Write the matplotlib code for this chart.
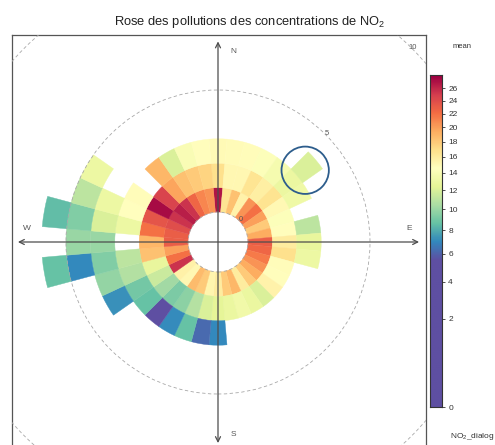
import numpy as np
import matplotlib
matplotlib.use("Agg")
import matplotlib.pyplot as plt
from matplotlib.patches import Wedge, Circle
from matplotlib.collections import PatchCollection
from matplotlib.colors import FuncNorm

plt.rcParams['font.family'] = ['Liberation Sans', 'DejaVu Sans']
plt.rcParams['mathtext.default'] = 'regular'

# ---------------- data ----------------
directions = list(range(0, 360, 10))          # wind direction bins (deg)
nan = np.nan
# mean NO2 per wind-speed ring (ring k = speeds k-1..k), one value per direction
ring1 = [27, 16.5, 18.5, 15.5, 20.5, 22, 20, 18, 19.5, 23, 22.5, 21.5,
         20.5, 19.5, 18, 16, 19, 18, 16, 15.3, 18, 18.8, 15.2, 15.6,
         25.5, 22, 20, 23, 23, 24, 25.5, 26.5, 25.5, 22.5, 21, 20.5]
ring2 = [16.8, 15.2, 15.2, 16.5, 15.8, 16.6, 15.1, 14.3, 14.7, 16, 16.8, 14.8,
         14.7, 15.5, 12, 12.8, 13.3, 12.8, 12.4, 12, 10.8, 9.6, 9.2, 10.2,
         11.5, 12.7, 18.5, 19, 22, 23.5, 27.5, 24.5, 19.8, 18.5, 18, 17.5]
ring3 = [15, 14.9, 14.8, 14.3, 13.7, 12.9, 13.2, nan, 11, 12.7, 13, nan,
         nan, nan, nan, nan, nan, nan, 7, 6.2, 8.6, 7.1, 5.5, 8.6,
         9, 10.7, 11, nan, 13, 14.6, 14.8, nan, 19, 12, 14, 14.7]
ring4 = [nan, nan, nan, nan, nan, 12, nan, nan, nan, nan, nan, nan,
         nan, nan, nan, nan, nan, nan, nan, nan, nan, nan, nan, nan,
         7.2, 9.8, 9.3, 10, 12, 13, nan, nan, nan, nan, nan, nan]
ring5 = [nan, nan, nan, nan, nan, nan, nan, nan, nan, nan, nan, nan,
         nan, nan, nan, nan, nan, nan, nan, nan, nan, nan, nan, nan,
         nan, nan, 7, 10, 9.3, 11, 13, nan, nan, nan, nan, nan]
ring6 = [nan, nan, nan, nan, nan, nan, nan, nan, nan, nan, nan, nan,
         nan, nan, nan, nan, nan, nan, nan, nan, nan, nan, nan, nan,
         nan, nan, 8.6, nan, 8.5, nan, nan, nan, nan, nan, nan, nan]
rings = [ring1, ring2, ring3, ring4, ring5, ring6]

colour_ticks = [0, 2, 4, 6, 8, 10, 12, 14, 16, 18, 20, 22, 24, 26]
grid_speeds = [0, 5, 10]
compass_labels = ["N", "E", "S", "W"]
highlight = (50, 4)            # direction, ring of the circled cell
title = "Rose des pollutions des concentrations de NO$_2$"

# ---------------- figure ----------------
W, H = 495, 445
fig = plt.figure(figsize=(W / 100, H / 100), dpi=100)
px = 24.4                      # pixels per wind-speed unit
offset = 30 / px               # central hole radius
ax = fig.add_axes([12 / W, (H - 449) / H, 414 / W, 414 / H])
ax.set_xlim(-206 / px, 208 / px)
ax.set_ylim(-207 / px, 207 / px)
ax.set_aspect('equal')
ax.set_xticks([]); ax.set_yticks([])
for s in ax.spines.values():
    s.set_color('#555555'); s.set_linewidth(0.9)

cmap = plt.get_cmap('Spectral_r')
norm = FuncNorm((np.sqrt, np.square), vmin=5.5, vmax=28)

patches, vals = [], []
width = directions[1] - directions[0]
for k, ring in enumerate(rings):
    for d, v in zip(directions, ring):
        if np.isnan(v):
            continue
        ang = 90 - d
        patches.append(Wedge((0, 0), offset + k + 1, ang - width / 2, ang + width / 2, width=1))
        vals.append(v)
pc = PatchCollection(patches, cmap=cmap, norm=norm, edgecolor='face', linewidth=0.3)
pc.set_array(np.array(vals))
ax.add_collection(pc)

# grid circles
for g in grid_speeds:
    r = offset + g
    ax.add_patch(Circle((0, 0), r, fill=False, ls=(0, (4, 3)), lw=0.6, color='#a8a8a8', zorder=3))
    ax.text(r * np.cos(np.pi / 4) + 0.05, r * np.sin(np.pi / 4) + 0.05, str(g),
            fontsize=5.5, color='#555555', ha='center', va='center', zorder=5)

# axes arrows
arr = dict(arrowstyle='<->', color='#4d4d4d', lw=0.9, mutation_scale=9, shrinkA=0, shrinkB=0)
ax.annotate('', xy=(0, 8.22), xytext=(0, -8.24), arrowprops=arr, zorder=4)
ax.annotate('', xy=(8.24, 0), xytext=(-8.2, 0), arrowprops=arr, zorder=4)
lab_pos = {"N": (0.62, 7.8), "E": (7.83, 0.55), "S": (0.62, -7.87), "W": (-7.83, 0.55)}
for lab in compass_labels:
    ax.text(*lab_pos[lab], lab, fontsize=6, color='#555555', ha='center', va='center')

# highlight circle around one cell
hd, hr = highlight
rm = offset + hr - 0.5
ax.add_patch(Circle((rm * np.sin(np.radians(hd)) - 0.05, rm * np.cos(np.radians(hd)) - 0.1), 0.97,
                    fill=False, lw=1.3, color='#2d5d8c', zorder=6))

# title
fig.text(250 / W, 1 - 22 / H, title, ha='center', va='center', fontsize=9.3, color='#222222')

# colour key (sqrt scale)
s_top = 332 / 62.56
cax = fig.add_axes([430 / W, (H - 407) / H, 12 / W, 332 / H])
s = np.linspace(0, s_top, 500)
cax.imshow((s ** 2)[:, None], cmap=cmap, norm=norm, aspect='auto', origin='lower',
           extent=(0, 1, 0, s_top))
cax.set_ylim(0, s_top)
cax.set_xticks([])
cax.yaxis.tick_right()
cax.set_yticks(np.sqrt(colour_ticks))
cax.set_yticklabels([str(t) for t in colour_ticks])
cax.tick_params(axis='y', labelsize=6, length=2.5, width=0.6, color='#333333', pad=2, labelcolor='#333333')
for sp in cax.spines.values():
    sp.set_color('#333333'); sp.set_linewidth(0.8)
fig.text(462 / W, 1 - 47 / H, "mean", fontsize=5.5, ha='center', va='center', color='#333333')
fig.text(472 / W, 1 - 437 / H, "NO$_2$_dialog", fontsize=6, ha='center', va='center', color='#333333')

fig.savefig('out.png', dpi=100)
